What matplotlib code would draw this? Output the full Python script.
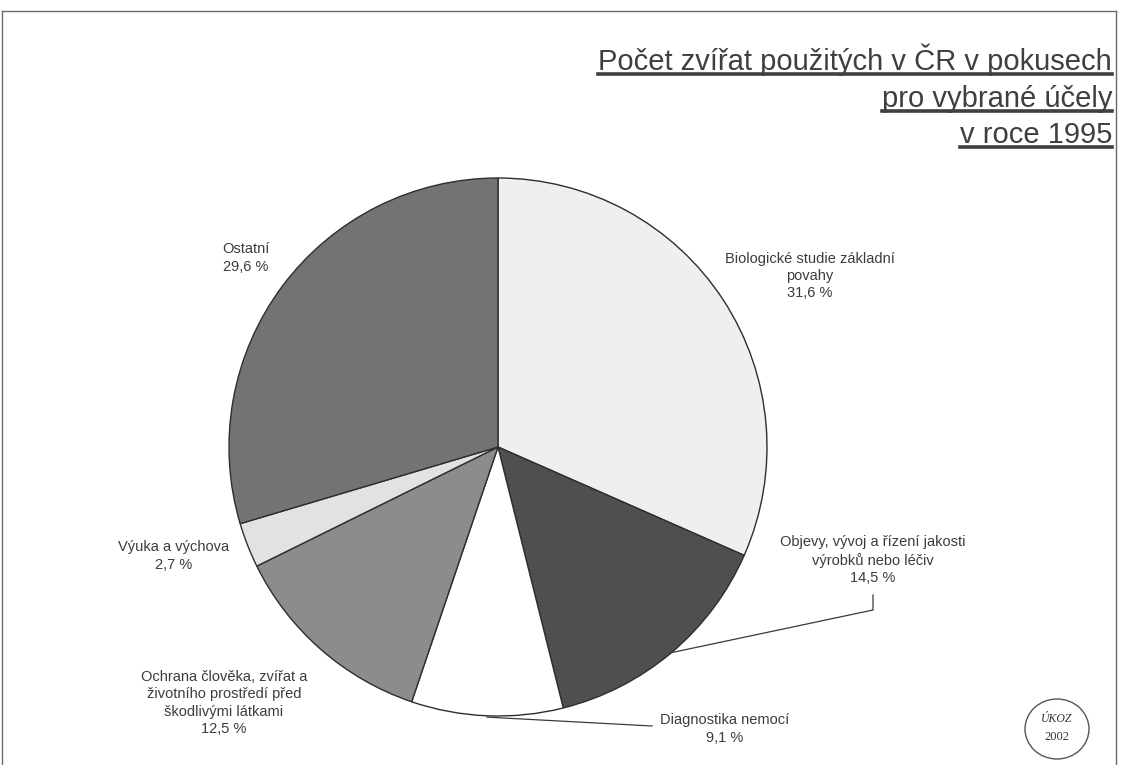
import matplotlib
matplotlib.use("Agg")
import matplotlib.pyplot as plt
from matplotlib.patches import Ellipse
from matplotlib.lines import Line2D
import numpy as np

# ---- data ----
categories = [
    "Biologické studie základní\npovahy",
    "Objevy, vývoj a řízení jakosti\nvýrobků nebo léčiv",
    "Diagnostika nemocí",
    "Ochrana člověka, zvířat a\nživotního prostředí před\nškodlivými látkami",
    "Výuka a výchova",
    "Ostatní",
]
values = [31.6, 14.5, 9.1, 12.5, 2.7, 29.6]
colors = ["#efefef", "#4f4f4f", "#ffffff", "#8c8c8c", "#e2e2e2", "#737373"]
title_lines = ["Počet zvířat použitých v ČR v pokusech", "pro vybrané účely", "v roce 1995"]

W, H = 1121, 765
fig = plt.figure(figsize=(W / 100, H / 100), dpi=100)
fig.patch.set_facecolor("white")

# pie axes: centre (498,447) px, radius 269 px
cx, cy, R = 498, 447, 269
ax = fig.add_axes([(cx - R) / W, 1 - (cy + R) / H, 2 * R / W, 2 * R / H])

wedges, _ = ax.pie(values, colors=colors, startangle=90, counterclock=False, radius=1,
                   wedgeprops=dict(edgecolor="#2e2e2e", linewidth=1.0))
for w in wedges:
    w.set_clip_on(False)
ax.set_xlim(-1, 1)
ax.set_ylim(-1, 1)
ax.set_aspect("equal")
ax.axis("off")

def px2d(px, py):
    return (px - cx) / R, (cy - py) / R

lab_font = dict(family="Liberation Sans", fontsize=10.5, color="#3c3c3c")
labels = [f"{c}\n{v:.1f} %".replace(".", ",") for c, v in zip(categories, values)]
label_pos = [(810, 276), (873, 560), (725, 729), (224, 703), (174, 556), (246, 258)]
for i, (lab, (px, py)) in enumerate(zip(labels, label_pos)):
    x, y = px2d(px, py)
    ax.text(x, y, lab, ha="center", va="center", linespacing=1.3, clip_on=False, **lab_font)

# leader lines from wedge mid-edge
def mid_point(i):
    w = wedges[i]
    ang = np.deg2rad((w.theta1 + w.theta2) / 2)
    return np.cos(ang), np.sin(ang)

mx, my = mid_point(1)
x1, y1 = px2d(873, 610)
x2, y2 = px2d(873, 595)
ax.plot([mx, x1, x2], [my, y1, y2], color="#3a3a3a", lw=0.9, clip_on=False)

mx, my = mid_point(2)
x1, y1 = px2d(652, 726)
ax.plot([mx, x1], [my - 0.005, y1], color="#3a3a3a", lw=0.9, clip_on=False)

# title with underlines
baselines = [70, 107, 143]
fig.canvas.draw()
renderer = fig.canvas.get_renderer()
for line, by in zip(title_lines, baselines):
    t = fig.text(1112 / W, 1 - by / H, line, ha="right", va="baseline",
                 family="Liberation Sans", fontsize=21, color="#3f3f3f")
    bb = t.get_window_extent(renderer)
    yline = 1 - (by + 4) / H
    fig.add_artist(Line2D([bb.x0 / W, bb.x1 / W], [yline, yline], color="#3f3f3f",
                          lw=2.6, transform=fig.transFigure))

# logo ellipse
fig.add_artist(Ellipse((1057 / W, 1 - 729 / H), 64 / W, 60 / H, transform=fig.transFigure,
                       fill=False, edgecolor="#555555", lw=1.0))
fig.text(1057 / W, 1 - 719 / H, "ÚKOZ", ha="center", va="center", family="Liberation Serif",
         style="italic", fontsize=8.5, color="#333333")
fig.text(1057 / W, 1 - 737 / H, "2002", ha="center", va="center", family="Liberation Serif",
         fontsize=9, color="#333333")

# frame
frame_kw = dict(color="#6a6a6a", lw=1.0, transform=fig.transFigure)
fig.add_artist(Line2D([2 / W, 1116 / W], [1 - 11 / H, 1 - 11 / H], **frame_kw))
fig.add_artist(Line2D([1116 / W, 1116 / W], [1 - 11 / H, 0], **frame_kw))
fig.add_artist(Line2D([2 / W, 2 / W], [1 - 11 / H, 0], **frame_kw))

fig.savefig("out.png", dpi=100, facecolor="white")
